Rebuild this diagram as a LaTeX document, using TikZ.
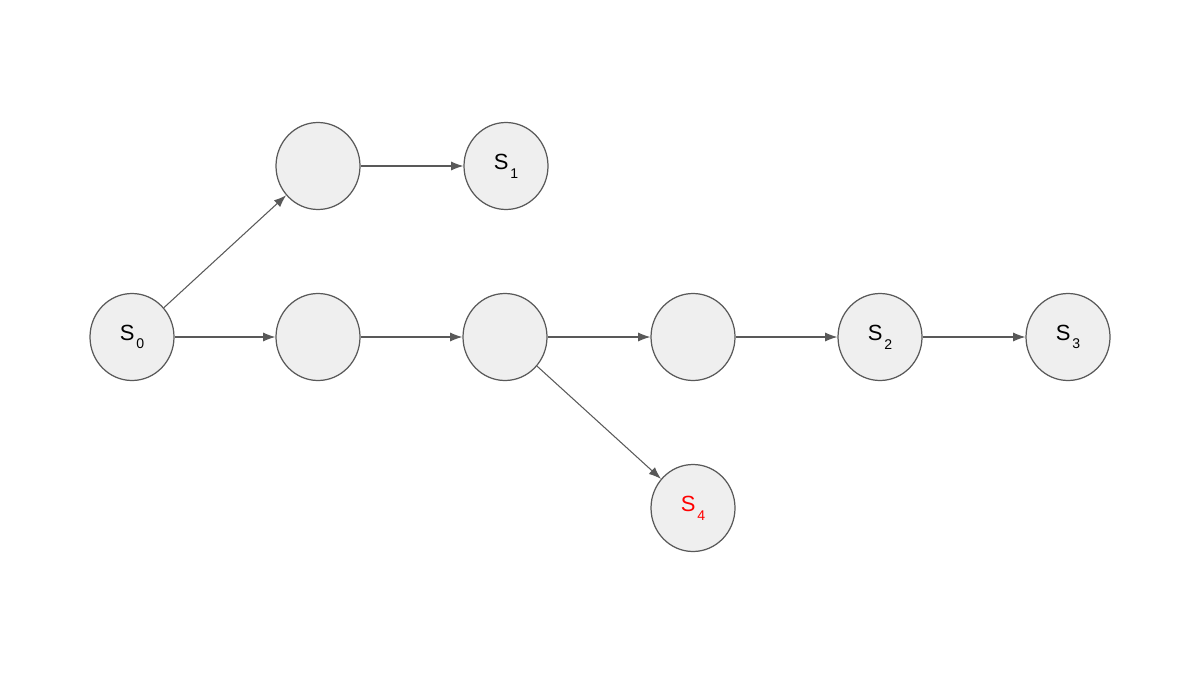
\documentclass[tikz,border=0pt]{standalone}
\usepackage{fontspec}
\setmainfont{Liberation Sans}
\usetikzlibrary{arrows.meta,shapes.geometric}
\definecolor{nodefill}{HTML}{EFEFEF}
\definecolor{linegray}{HTML}{595959}
\newcommand{\stname}[1]{S\kern1pt\raisebox{-5pt}{\fontsize{8}{8}\selectfont #1}}

\begin{document}
\begin{tikzpicture}[>={Latex[length=7pt,width=5.2pt]},
  st/.style={ellipse,draw=linegray,fill=nodefill,line width=0.7pt,minimum width=1.68cm,minimum height=1.74cm,inner sep=0pt,font=\fontsize{12.5}{14}\selectfont},
  link/.style={->,draw=linegray,line width=0.6pt}]
  \useasboundingbox (0,0) rectangle (24,13.5);
  % states along the main row
  \node[st] (s0) at (2.64,6.76) {\stname{0}};
  \node[st] (n1) at (6.36,6.76) {};
  \node[st] (n2) at (10.1,6.76) {};
  \node[st] (n3) at (13.86,6.76) {};
  \node[st] (s2) at (17.6,6.76) {\stname{2}};
  \node[st] (s3) at (21.36,6.76) {\stname{3}};
  % upper branch
  \node[st] (t1) at (6.36,10.18) {};
  \node[st] (s1) at (10.12,10.18) {\stname{1}};
  % lower branch
  \node[st,text=red] (s4) at (13.86,3.34) {\stname{4}};
  \draw[link] (s0) -- (t1);
  \draw[link] (t1) -- (s1);
  \draw[link] (s0) -- (n1);
  \draw[link] (n1) -- (n2);
  \draw[link] (n2) -- (n3);
  \draw[link] (n3) -- (s2);
  \draw[link] (s2) -- (s3);
  \draw[link] (n2) -- (s4);
\end{tikzpicture}
\end{document}
